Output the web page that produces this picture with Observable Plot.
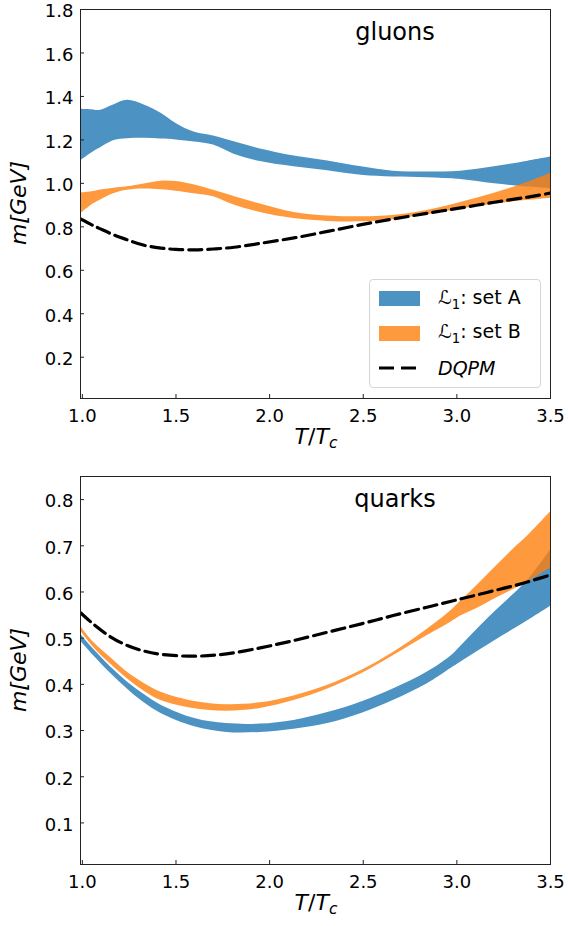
<!DOCTYPE html>
<html>
<head>
<meta charset="utf-8">
<script src="https://cdn.jsdelivr.net/npm/d3@7"></script>
<script src="https://cdn.jsdelivr.net/npm/@observablehq/plot@0.6"></script>
<style>
  body { margin: 0; background: #fff; font-family: "DejaVu Sans", sans-serif; }
  #wrap { position: relative; width: 568px; height: 926px; overflow: hidden; }
  .panel { position: absolute; left: 0; overflow: visible; }
  .txt { position: absolute; color: #000; white-space: nowrap; line-height: 1; }
  .xl { font-size: 22px; transform: translate(-50%, -50%); }
  .yl { font-size: 22px; font-style: italic; transform: translate(-50%, -50%) rotate(-90deg); }
  .pl { font-size: 24px; transform: translate(-50%, -50%); }
  .legend { position: absolute; left: 369px; top: 279px; width: 170px; height: 107px;
            border: 1px solid #d6d6d6; border-radius: 4px; background: rgba(255,255,255,0.8); }
  .sw { position: absolute; left: 9px; width: 41px; height: 15px; }
  .lt { position: absolute; left: 68px; font-size: 19px; line-height: 1; transform: translateY(-50%); }
</style>
</head>
<body>
<div id="wrap"></div>
<script>
// ---------- gluons (upper panel) ----------
const gluT   = [0.99, 1.06, 1.09, 1.17, 1.24, 1.33, 1.42, 1.50, 1.60, 1.70, 1.81, 1.95, 2.13, 2.31, 2.49, 2.66, 2.84, 3.02, 3.20, 3.38, 3.50];
const gluAHi = [1.341, 1.338, 1.335, 1.362, 1.382, 1.361, 1.323, 1.276, 1.235, 1.218, 1.191, 1.158, 1.126, 1.103, 1.076, 1.056, 1.052, 1.056, 1.076, 1.102, 1.121];
const gluALo = [1.103, 1.145, 1.160, 1.197, 1.205, 1.207, 1.204, 1.200, 1.190, 1.176, 1.134, 1.100, 1.076, 1.058, 1.037, 1.029, 1.026, 1.018, 0.998, 0.983, 0.975];
const gluBHi = [0.955, 0.962, 0.968, 0.978, 0.984, 0.997, 1.010, 1.008, 0.992, 0.968, 0.940, 0.905, 0.866, 0.850, 0.846, 0.852, 0.875, 0.912, 0.955, 1.005, 1.046];
const gluBLo = [0.860, 0.906, 0.920, 0.953, 0.968, 0.974, 0.970, 0.964, 0.952, 0.938, 0.900, 0.866, 0.838, 0.825, 0.823, 0.833, 0.855, 0.882, 0.904, 0.922, 0.932];
const gluDQ  = [0.836, 0.805, 0.793, 0.762, 0.740, 0.715, 0.702, 0.696, 0.694, 0.698, 0.706, 0.724, 0.749, 0.779, 0.810, 0.836, 0.862, 0.887, 0.913, 0.937, 0.955];

// ---------- quarks (lower panel) ----------
const qT   = [0.99, 1.06, 1.15, 1.24, 1.33, 1.42, 1.60, 1.77, 1.95, 2.13, 2.31, 2.49, 2.66, 2.84, 2.97, 3.02, 3.11, 3.20, 3.29, 3.38, 3.50];
const qAHi = [0.509, 0.476, 0.438, 0.405, 0.378, 0.355, 0.326, 0.315, 0.314, 0.322, 0.339, 0.362, 0.390, 0.426, 0.462, 0.482, 0.520, 0.556, 0.590, 0.626, 0.691];
const qALo = [0.494, 0.462, 0.424, 0.390, 0.360, 0.337, 0.308, 0.296, 0.296, 0.303, 0.315, 0.337, 0.365, 0.401, 0.435, 0.448, 0.471, 0.494, 0.516, 0.538, 0.569];
const qBHi = [0.526, 0.491, 0.458, 0.426, 0.402, 0.383, 0.363, 0.356, 0.360, 0.375, 0.398, 0.430, 0.469, 0.519, 0.560, 0.580, 0.615, 0.652, 0.688, 0.722, 0.773];
const qBLo = [0.516, 0.480, 0.444, 0.412, 0.385, 0.365, 0.347, 0.342, 0.348, 0.365, 0.390, 0.423, 0.462, 0.505, 0.535, 0.548, 0.565, 0.585, 0.603, 0.622, 0.652];
const qDQ  = [0.555, 0.530, 0.503, 0.484, 0.472, 0.465, 0.461, 0.466, 0.479, 0.495, 0.513, 0.531, 0.549, 0.567, 0.580, 0.585, 0.594, 0.603, 0.612, 0.622, 0.637];

// ---------- ticks / labels ----------
const xTicks = [1.0, 1.5, 2.0, 2.5, 3.0, 3.5];
const gluYTicks = [0.2, 0.4, 0.6, 0.8, 1.0, 1.2, 1.4, 1.6, 1.8];
const qYTicks = [0.1, 0.2, 0.3, 0.4, 0.5, 0.6, 0.7, 0.8];
const panelNames = ["gluons", "quarks"];
const seriesNames = ["set A", "set B", "DQPM"];

const blue = "#1f77b4", orange = "#ff7f0e";

function panel(T, aLo, aHi, bLo, bHi, dq, yDomain, yTicks, mt, mb) {
  return Plot.plot({
    width: 568, height: 463,
    marginLeft: 80, marginRight: 18, marginTop: mt, marginBottom: mb,
    x: { domain: [0.99, 3.5] },
    y: { domain: yDomain },
    style: { fontSize: "18px", fontFamily: "DejaVu Sans, sans-serif", color: "#000", background: "transparent", overflow: "visible" },
    marks: [
      Plot.areaY(T, { x: T, y1: aLo, y2: aHi, fill: blue, fillOpacity: 0.8, curve: "catmull-rom", clip: true }),
      Plot.areaY(T, { x: T, y1: bLo, y2: bHi, fill: orange, fillOpacity: 0.8, curve: "catmull-rom", clip: true }),
      Plot.lineY(T, { x: T, y: dq, stroke: "#000", strokeWidth: 3.2, strokeDasharray: "13,6", curve: "catmull-rom", clip: true }),
      Plot.frame({ stroke: "#222", strokeWidth: 1 }),
      Plot.axisX({ ticks: xTicks, tickFormat: d3.format(".1f"), tickSize: -4, tickPadding: 15, label: null, stroke: "#222" }),
      // inward tick lines
      Plot.axisY({ ticks: yTicks, tickFormat: () => "", tickSize: -4, label: null, stroke: "#222" }),
      // tick labels, nudged to matplotlib's centre-baseline alignment
      Plot.axisY({ ticks: yTicks, tickFormat: d3.format(".1f"), tickSize: 0, tickPadding: 7, dy: 2, label: null })
    ]
  });
}

const wrap = document.getElementById("wrap");
const topPanel = panel(gluT, gluALo, gluAHi, gluBLo, gluBHi, gluDQ, [0.01, 1.8], gluYTicks, 9, 65);
topPanel.classList.add("panel"); topPanel.style.top = "0px";
wrap.appendChild(topPanel);
const botPanel = panel(qT, qALo, qAHi, qBLo, qBHi, qDQ, [0.01, 0.85], qYTicks, 13, 62);
botPanel.classList.add("panel"); botPanel.style.top = "463px";
wrap.appendChild(botPanel);

function addText(cls, x, y, html) {
  const d = document.createElement("div");
  d.className = "txt " + cls;
  d.style.left = x + "px"; d.style.top = y + "px";
  d.innerHTML = html;
  wrap.appendChild(d);
}
const xlab = '<i>T</i>/<i>T</i><sub style="font-size:0.7em;font-style:italic;vertical-align:-0.25em">c</sub>';
addText("xl", 316, 439, xlab);
addText("xl", 316, 905, xlab);
addText("yl", 19, 203, "m[GeV]");
addText("yl", 19, 670, "m[GeV]");
addText("pl", 395, 32, panelNames[0]);
addText("pl", 395, 499, panelNames[1]);

// legend
const lg = document.createElement("div");
lg.className = "legend";
lg.innerHTML =
  `<div class="sw" style="top:11px;background:${blue};opacity:0.8"></div>
   <div class="lt" style="top:20px">ℒ<sub style="font-size:0.7em">1</sub>: ${seriesNames[0]}</div>
   <div class="sw" style="top:46px;background:${orange};opacity:0.8"></div>
   <div class="lt" style="top:54px">ℒ<sub style="font-size:0.7em">1</sub>: ${seriesNames[1]}</div>
   <svg style="position:absolute;left:9px;top:81px" width="42" height="14"><line x1="0" y1="7" x2="42" y2="7" stroke="#000" stroke-width="3.2" stroke-dasharray="15,7"/></svg>
   <div class="lt" style="top:88px;font-style:italic">${seriesNames[2]}</div>`;
wrap.appendChild(lg);
</script>
</body>
</html>
